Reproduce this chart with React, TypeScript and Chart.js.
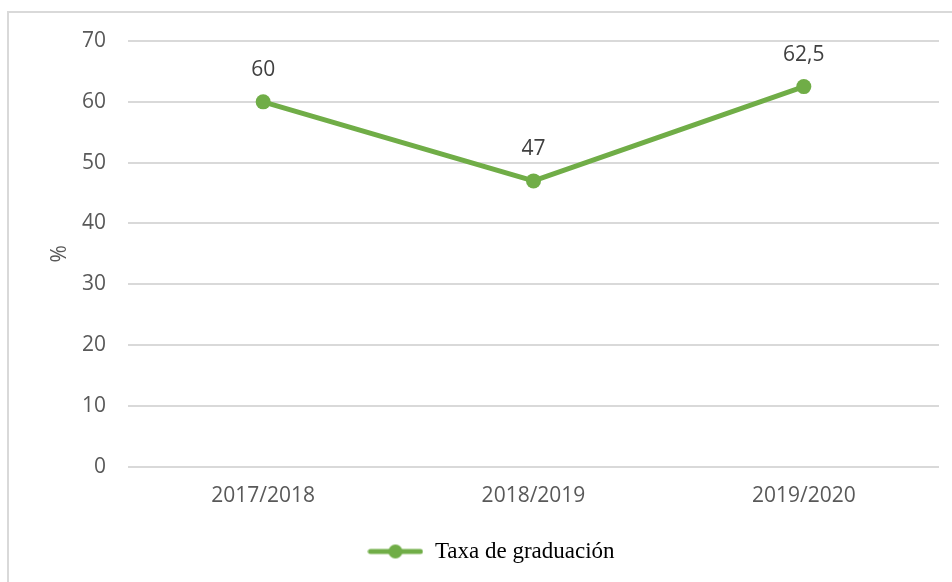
import React, { useEffect, useRef } from "react";
import { Chart, registerables } from "chart.js";

Chart.register(...registerables);

const categories = ["2017/2018", "2018/2019", "2019/2020"];
const seriesName = "Taxa de graduación";
const values = [60, 47, 62.5];
const valueLabels = ["60", "47", "62,5"];
const yTicks = [0, 10, 20, 30, 40, 50, 60, 70];

const GREEN = "#70AD47";

function makeLegendIcon() {
  const c = document.createElement("canvas");
  c.width = 56;
  c.height = 16;
  const ctx = c.getContext("2d")!;
  ctx.strokeStyle = GREEN;
  ctx.lineWidth = 5;
  ctx.lineCap = "round";
  ctx.beginPath();
  ctx.moveTo(3, 8);
  ctx.lineTo(53, 8);
  ctx.stroke();
  ctx.fillStyle = GREEN;
  ctx.beginPath();
  ctx.arc(28, 8, 7, 0, Math.PI * 2);
  ctx.fill();
  return c;
}

const dataLabelPlugin = {
  id: "dataLabels",
  afterDatasetsDraw(chart: any) {
    const ctx = chart.ctx;
    const meta = chart.getDatasetMeta(0);
    ctx.save();
    ctx.font = "21px 'Open Sans'";
    ctx.fillStyle = "#404040";
    ctx.textAlign = "center";
    ctx.textBaseline = "middle";
    meta.data.forEach((pt: any, i: number) => {
      ctx.fillText(valueLabels[i], pt.x, pt.y - 32);
    });
    ctx.restore();
  },
};

export default function App() {
  const ref = useRef<HTMLCanvasElement>(null);
  useEffect(() => {
    const icon = makeLegendIcon();
    const chart = new Chart(ref.current!, {
      type: "line",
      data: {
        labels: categories,
        datasets: [
          {
            label: seriesName,
            data: values,
            borderColor: GREEN,
            backgroundColor: GREEN,
            borderWidth: 5,
            pointRadius: 7.5,
            pointHoverRadius: 7.5,
            pointBackgroundColor: GREEN,
            pointBorderWidth: 0,
            pointStyle: "circle",
            tension: 0,
          },
        ],
      },
      options: {
        animation: false,
        responsive: false,
        maintainAspectRatio: false,
        layout: { padding: { left: 43, top: 41, right: 13, bottom: 9 } },
        plugins: {
          tooltip: { enabled: false },
          legend: {
            position: "bottom",
            labels: {
              usePointStyle: true,
              pointStyleWidth: 56,
              boxHeight: 16,
              padding: 14,
              color: "#595959",
              font: { family: "'Liberation Serif', serif", size: 23 },
              generateLabels: () => [
                {
                  text: seriesName,
                  pointStyle: icon as any,
                  fillStyle: GREEN,
                  strokeStyle: GREEN,
                  lineWidth: 0,
                  hidden: false,
                  datasetIndex: 0,
                },
              ],
            },
          },
        },
        scales: {
          x: {
            offset: true,
            grid: { display: false, drawTicks: false },
            border: { display: false },
            ticks: {
              color: "#595959",
              font: { family: "'Open Sans'", size: 21 },
              padding: 17,
            },
          },
          y: {
            min: 0,
            max: 70,
            afterBuildTicks: (axis: any) => {
              axis.ticks = yTicks.map((v) => ({ value: v }));
            },
            afterFit: (axis: any) => {
              axis.width = 85;
            },
            grid: { color: "#D9D9D9", lineWidth: 2, drawTicks: false },
            border: { display: false },
            ticks: {
              color: "#595959",
              font: { family: "'Open Sans'", size: 21 },
              padding: 22,
            },
            title: {
              display: true,
              text: "%",
              color: "#595959",
              font: { family: "'Open Sans'", size: 21 },
              padding: 4,
            },
          },
        },
      },
      plugins: [dataLabelPlugin],
    });
    return () => chart.destroy();
  }, []);
  return (
    <div
      style={{
        position: "fixed",
        left: 0,
        top: 0,
        width: 952,
        height: 582,
        overflow: "hidden",
        background: "#fff",
      }}
    >
      <div
        style={{
          position: "absolute",
          left: 7,
          top: 11,
          width: 980,
          height: 600,
          border: "2px solid #D9D9D9",
          boxSizing: "border-box",
        }}
      />
      <canvas
        ref={ref}
        width={952}
        height={582}
        style={{ position: "absolute", left: 0, top: 0, width: 952, height: 582 }}
      />
    </div>
  );
}
